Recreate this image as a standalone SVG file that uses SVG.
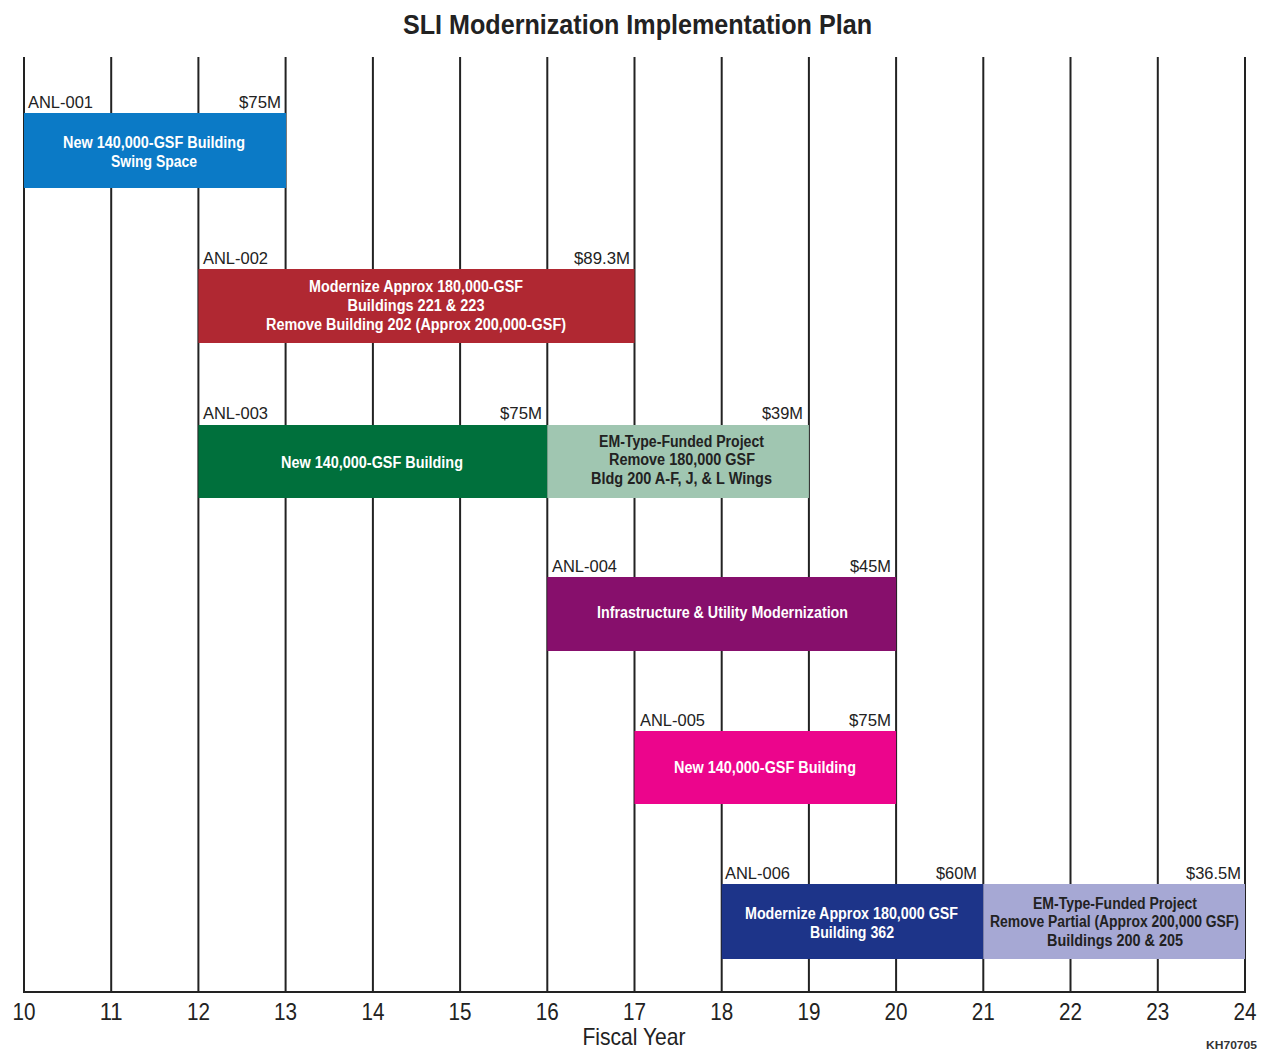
<svg xmlns="http://www.w3.org/2000/svg" width="1262" height="1051" viewBox="0 0 1262 1051">
<style>
text{font-family:"Liberation Sans Narrow","Liberation Sans",Arial,sans-serif}
.title{font-size:28px;font-weight:bold;fill:#222;text-anchor:middle}
.lbl{font-size:17px;fill:#222}
.cost{font-size:17px;fill:#222;text-anchor:end}
.bt{font-size:16px;font-weight:bold;fill:#fff;text-anchor:middle}
.dt{font-size:16px;font-weight:bold;fill:#222;text-anchor:middle}
.ax{font-size:24px;fill:#222;text-anchor:middle}
.grid line{stroke:#222;stroke-width:2}
</style>
<rect width="1262" height="1051" fill="#fff"/>
<text class="title" x="637.5" y="34" textLength="469" lengthAdjust="spacingAndGlyphs">SLI Modernization Implementation Plan</text>
<g id="connectors" class="grid">
<line x1="24" y1="57" x2="24" y2="992"/>
<line x1="111.2" y1="57" x2="111.2" y2="992"/>
<line x1="198.4" y1="57" x2="198.4" y2="992"/>
<line x1="285.6" y1="57" x2="285.6" y2="992"/>
<line x1="372.9" y1="57" x2="372.9" y2="992"/>
<line x1="460.1" y1="57" x2="460.1" y2="992"/>
<line x1="547.3" y1="57" x2="547.3" y2="992"/>
<line x1="634.5" y1="57" x2="634.5" y2="992"/>
<line x1="721.7" y1="57" x2="721.7" y2="992"/>
<line x1="808.9" y1="57" x2="808.9" y2="992"/>
<line x1="896.1" y1="57" x2="896.1" y2="992"/>
<line x1="983.3" y1="57" x2="983.3" y2="992"/>
<line x1="1070.5" y1="57" x2="1070.5" y2="992"/>
<line x1="1157.8" y1="57" x2="1157.8" y2="992"/>
<line x1="1245" y1="57" x2="1245" y2="992"/>
<line x1="23" y1="992" x2="1246" y2="992"/>
</g>
<g id="anl-001">
<rect x="24" y="113" width="262" height="75" fill="#0b7ac6"/>
<text class="lbl" x="28" y="108" textLength="65" lengthAdjust="spacingAndGlyphs">ANL-001</text>
<text class="cost" x="281" y="108" textLength="42" lengthAdjust="spacingAndGlyphs">$75M</text>
<text class="bt" x="154" y="148" textLength="182" lengthAdjust="spacingAndGlyphs">New 140,000-GSF Building</text>
<text class="bt" x="154" y="167" textLength="86" lengthAdjust="spacingAndGlyphs">Swing Space</text>
</g>
<g id="anl-002">
<rect x="198.4" y="269" width="436.1" height="74" fill="#b02832"/>
<text class="lbl" x="203" y="264" textLength="65" lengthAdjust="spacingAndGlyphs">ANL-002</text>
<text class="cost" x="630" y="264" textLength="56" lengthAdjust="spacingAndGlyphs">$89.3M</text>
<text class="bt" x="416" y="292" textLength="214" lengthAdjust="spacingAndGlyphs">Modernize Approx 180,000-GSF</text>
<text class="bt" x="416" y="311" textLength="137" lengthAdjust="spacingAndGlyphs">Buildings 221 &amp; 223</text>
<text class="bt" x="416" y="329.5" textLength="300" lengthAdjust="spacingAndGlyphs">Remove Building 202 (Approx 200,000-GSF)</text>
</g>
<g id="anl-003">
<rect x="198.4" y="425" width="348.9" height="73" fill="#00703c"/>
<text class="lbl" x="203" y="419" textLength="65" lengthAdjust="spacingAndGlyphs">ANL-003</text>
<text class="cost" x="542" y="419" textLength="42" lengthAdjust="spacingAndGlyphs">$75M</text>
<text class="bt" x="372" y="468" textLength="182" lengthAdjust="spacingAndGlyphs">New 140,000-GSF Building</text>
</g>
<g id="em-003">
<rect x="547.3" y="425" width="261.6" height="73" fill="#a0c6b1"/>
<text class="cost" x="803" y="419" textLength="41" lengthAdjust="spacingAndGlyphs">$39M</text>
<text class="dt" x="681.5" y="446.5" textLength="165" lengthAdjust="spacingAndGlyphs">EM-Type-Funded Project</text>
<text class="dt" x="682" y="465" textLength="146" lengthAdjust="spacingAndGlyphs">Remove 180,000 GSF</text>
<text class="dt" x="681.5" y="483.5" textLength="181" lengthAdjust="spacingAndGlyphs">Bldg 200 A-F, J, &amp; L Wings</text>
</g>
<g id="anl-004">
<rect x="547.3" y="577" width="348.8" height="74" fill="#870f6c"/>
<text class="lbl" x="552" y="572" textLength="65" lengthAdjust="spacingAndGlyphs">ANL-004</text>
<text class="cost" x="891" y="572" textLength="41" lengthAdjust="spacingAndGlyphs">$45M</text>
<text class="bt" x="722.5" y="618" textLength="251" lengthAdjust="spacingAndGlyphs">Infrastructure &amp; Utility Modernization</text>
</g>
<g id="anl-005">
<rect x="634.5" y="731" width="261.6" height="73" fill="#ec058c"/>
<text class="lbl" x="640" y="726" textLength="65" lengthAdjust="spacingAndGlyphs">ANL-005</text>
<text class="cost" x="891" y="726" textLength="42" lengthAdjust="spacingAndGlyphs">$75M</text>
<text class="bt" x="765" y="773" textLength="182" lengthAdjust="spacingAndGlyphs">New 140,000-GSF Building</text>
</g>
<g id="anl-006">
<rect x="721.7" y="884" width="261.6" height="75" fill="#1d3489"/>
<text class="lbl" x="725" y="879" textLength="65" lengthAdjust="spacingAndGlyphs">ANL-006</text>
<text class="cost" x="977" y="879" textLength="41" lengthAdjust="spacingAndGlyphs">$60M</text>
<text class="bt" x="851.5" y="918.5" textLength="213" lengthAdjust="spacingAndGlyphs">Modernize Approx 180,000 GSF</text>
<text class="bt" x="852" y="937.5" textLength="84" lengthAdjust="spacingAndGlyphs">Building 362</text>
</g>
<g id="em-006">
<rect x="983.3" y="884" width="261.7" height="75" fill="#a6a8d4"/>
<text class="cost" x="1241" y="879" textLength="55" lengthAdjust="spacingAndGlyphs">$36.5M</text>
<text class="dt" x="1115" y="908.5" textLength="164" lengthAdjust="spacingAndGlyphs">EM-Type-Funded Project</text>
<text class="dt" x="1114.5" y="927" textLength="249" lengthAdjust="spacingAndGlyphs">Remove Partial (Approx 200,000 GSF)</text>
<text class="dt" x="1115" y="946" textLength="136" lengthAdjust="spacingAndGlyphs">Buildings 200 &amp; 205</text>
</g>
<g id="axis">
<text class="ax" x="24" y="1020" textLength="23" lengthAdjust="spacingAndGlyphs">10</text>
<text class="ax" x="111.2" y="1020" textLength="23" lengthAdjust="spacingAndGlyphs">11</text>
<text class="ax" x="198.4" y="1020" textLength="23" lengthAdjust="spacingAndGlyphs">12</text>
<text class="ax" x="285.6" y="1020" textLength="23" lengthAdjust="spacingAndGlyphs">13</text>
<text class="ax" x="372.9" y="1020" textLength="23" lengthAdjust="spacingAndGlyphs">14</text>
<text class="ax" x="460.1" y="1020" textLength="23" lengthAdjust="spacingAndGlyphs">15</text>
<text class="ax" x="547.3" y="1020" textLength="23" lengthAdjust="spacingAndGlyphs">16</text>
<text class="ax" x="634.5" y="1020" textLength="23" lengthAdjust="spacingAndGlyphs">17</text>
<text class="ax" x="721.7" y="1020" textLength="23" lengthAdjust="spacingAndGlyphs">18</text>
<text class="ax" x="808.9" y="1020" textLength="23" lengthAdjust="spacingAndGlyphs">19</text>
<text class="ax" x="896.1" y="1020" textLength="23" lengthAdjust="spacingAndGlyphs">20</text>
<text class="ax" x="983.3" y="1020" textLength="23" lengthAdjust="spacingAndGlyphs">21</text>
<text class="ax" x="1070.5" y="1020" textLength="23" lengthAdjust="spacingAndGlyphs">22</text>
<text class="ax" x="1157.8" y="1020" textLength="23" lengthAdjust="spacingAndGlyphs">23</text>
<text class="ax" x="1245" y="1020" textLength="23" lengthAdjust="spacingAndGlyphs">24</text>
<text class="ax" x="634" y="1045" font-size="23" textLength="103" lengthAdjust="spacingAndGlyphs">Fiscal Year</text>
<text x="1257" y="1049" font-size="11" font-weight="bold" fill="#333" text-anchor="end" textLength="51" lengthAdjust="spacingAndGlyphs">KH70705</text>
</g>
</svg>
